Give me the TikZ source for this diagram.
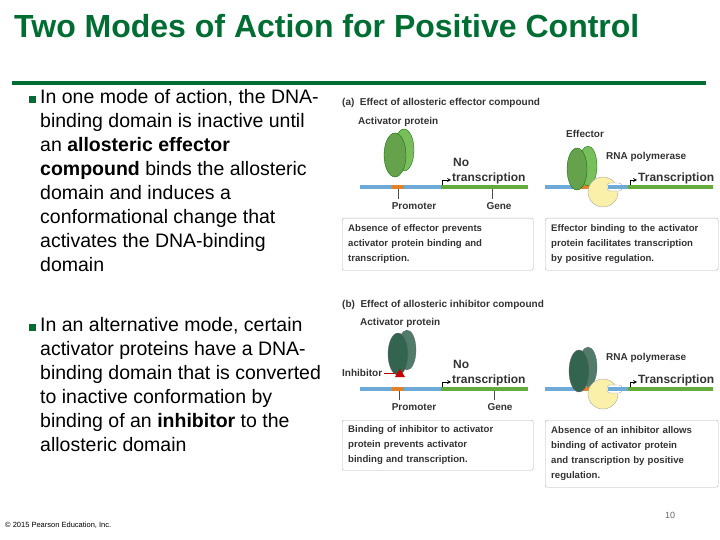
\documentclass[tikz,border=0pt]{standalone}
\usepackage{fontspec}
\setmainfont{Liberation Sans}
\definecolor{dg}{RGB}{0,110,50}
\definecolor{dnab}{RGB}{110,170,215}
\definecolor{dnag}{RGB}{100,170,60}
\definecolor{prom}{RGB}{225,130,40}
\definecolor{lg}{RGB}{120,190,90}
\definecolor{dkp}{RGB}{50,100,80}
\definecolor{yel}{RGB}{250,240,170}
\begin{document}
\begin{tikzpicture}[x=1pt,y=-1pt,
 bul/.style={anchor=north west,align=left,font=\fontsize{19.5}{24}\selectfont,inner sep=0},
 lab/.style={font=\fontsize{10}{12}\selectfont\bfseries,inner sep=0,text=black!80},
 big/.style={lab,anchor=west,font=\fontsize{12}{14}\selectfont\bfseries},
 capbox/.style={lab,anchor=north west,align=left,draw=black!30,rounded corners=2pt,inner xsep=6pt,inner ysep=5pt,font=\fontsize{9.6}{15}\selectfont\bfseries},
 dnaline/.style={line width=4pt},
 tick/.style={black!70,line width=0.6pt},
 barrow/.style={->,>=stealth,line width=0.7pt}]
\useasboundingbox (0,0) rectangle (720,540);
\node[anchor=west,text=dg,font=\fontsize{32}{34}\selectfont\bfseries,inner sep=0] (title) at (14,26) {Two Modes of Action for Positive Control};
\draw[dg,line width=3.5pt] (12,83) -- (706,83);
\fill[dg] (29,96) rectangle (36,103);
\node[bul] (b1) at (40,89) {In one mode of action, the DNA-\\binding domain is inactive until\\an \textbf{allosteric effector}\\\textbf{compound} binds the allosteric\\domain and induces a\\conformational change that\\activates the DNA-binding\\domain};
\fill[dg] (29,324) rectangle (36,331);
\node[bul] (b2) at (40,317) {In an alternative mode, certain\\activator proteins have a DNA-\\binding domain that is converted\\to inactive conformation by\\binding of an \textbf{inhibitor} to the\\allosteric domain};
% ---- panel a
\node[lab,anchor=west] (ta) at (342,103) {(a)\ \ Effect of allosteric effector compound};
\node[lab,anchor=west] (apa) at (358,122) {Activator protein};
\draw[dnab,dnaline] (360,187) -- (441,187); \draw[dnag,dnaline] (441,187) -- (528,187);
\draw[prom,dnaline] (392,187) -- (404,187);
\fill[lg,draw=green!40!black,line width=0.3pt] (404,150) ellipse (10 and 21);
\fill[lg!85!black,draw=green!40!black,line width=0.3pt] (395,155) ellipse (11 and 22);
\coordinate (sa) at (442,185);
\draw[barrow] (sa) -- (442,180) -- (451,180);
\node[big] (noa) at (453,162) {No};
\node[big] (tra) at (452,178) {transcription};
\node[lab] (pra) at (414,206) {Promoter}; \draw[tick] (398,189)--(398,199);
\node[lab] (gea) at (499,206) {Gene}; \draw[tick] (492,189)--(492,199);
\node[capbox,text width=179pt,minimum height=52pt] (ca1) at (342,218) {Absence of effector prevents\\activator protein binding and\\transcription.};
\draw[dnab,dnaline] (545,187) -- (628,187); \draw[dnag,dnaline] (628,187) -- (713,187);
\draw[prom,dnaline] (577,187) -- (590,187);
\node[lab,anchor=west] (efa) at (566,134) {Effector};
\fill[pink!80!red,draw=red!50!black,line width=0.3pt] (585,156) circle (5);
\fill[lg,draw=green!40!black,line width=0.3pt] (588,166) ellipse (9 and 20);
\fill[lg!85!black,draw=green!40!black,line width=0.3pt] (577,169) ellipse (10 and 21);
\fill[yel,draw=black!40,line width=0.3pt] (603,192) circle (15);
\fill[white,draw=black!40,line width=0.3pt,rounded corners=3pt] (607,183) rectangle (622,191);
\draw[dnab,dnaline] (608,187) -- (628,187);
\node[lab,anchor=west] (rpa) at (606,157) {RNA polymerase};
\draw[barrow] (630,185) -- (630,180) -- (637,180);
\node[big] (tra2) at (638,178) {Transcription};
\node[capbox,text width=161pt,minimum height=52pt] (ca2) at (545,218) {Effector binding to the activator\\protein facilitates transcription\\by positive regulation.};
% ---- panel b
\node[lab,anchor=west] (tb) at (342,305) {(b)\ \ Effect of allosteric inhibitor compound};
\node[lab,anchor=west] (apb) at (360,323) {Activator protein};
\draw[dnab,dnaline] (360,389) -- (441,389); \draw[dnag,dnaline] (441,389) -- (528,389);
\draw[prom,dnaline] (392,389) -- (404,389);
\fill[dkp!85,draw=black!60,line width=0.3pt] (407,350) ellipse (9 and 20);
\fill[dkp,draw=black!60,line width=0.3pt] (398,354) ellipse (10 and 21);
\fill[red!80!black] (395,377) -- (405,377) -- (400,369) -- cycle;
\node[lab,anchor=west] (inb) at (342,373) {Inhibitor};
\draw[red!70!black,line width=0.6pt] (inb.east) ++(2,0) -- (395,373);
\draw[barrow] (442,387) -- (442,382) -- (451,382);
\node[big] (nob) at (453,364) {No};
\node[big] (trb) at (452,380) {transcription};
\node[lab] (prb) at (414,407) {Promoter}; \draw[tick] (399,391)--(399,400);
\node[lab] (geb) at (500,407) {Gene}; \draw[tick] (494,391)--(494,400);
\node[capbox,text width=179pt,minimum height=50pt] (cb1) at (342,420) {Binding of inhibitor to activator\\protein prevents activator\\binding and transcription.};
\draw[dnab,dnaline] (545,389) -- (628,389); \draw[dnag,dnaline] (628,389) -- (713,389);
\draw[prom,dnaline] (577,389) -- (590,389);
\fill[dkp!85,draw=black!60,line width=0.3pt] (588,367) ellipse (9 and 20);
\fill[dkp,draw=black!60,line width=0.3pt] (579,371) ellipse (10 and 21);
\fill[yel,draw=black!40,line width=0.3pt] (603,394) circle (15);
\fill[white,draw=black!40,line width=0.3pt,rounded corners=3pt] (607,385) rectangle (622,393);
\draw[dnab,dnaline] (608,389) -- (628,389);
\node[lab,anchor=west] (rpb) at (606,358) {RNA polymerase};
\draw[barrow] (630,387) -- (630,382) -- (637,382);
\node[big] (trb2) at (638,380) {Transcription};
\node[capbox,text width=161pt,minimum height=67pt] (cb2) at (545,420) {Absence of an inhibitor allows\\binding of activator protein\\and transcription by positive\\regulation.};
% footer
\node[anchor=west,font=\fontsize{7.5}{9}\selectfont,inner sep=0] (cp) at (5,525) {© 2015 Pearson Education, Inc.};
\node[font=\fontsize{9}{10}\selectfont,text=black!60,inner sep=0] (pg) at (670,515) {10};
\end{tikzpicture}
\end{document}
